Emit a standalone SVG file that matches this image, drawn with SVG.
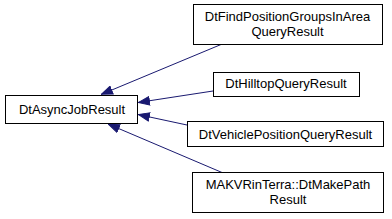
<svg xmlns="http://www.w3.org/2000/svg" width="392" height="219" viewBox="0 0 392 219">
<style>
.n rect{fill:#fff;stroke:#000;stroke-width:1}
.n text{font-family:"Liberation Sans",Arial,sans-serif;font-size:13px;text-anchor:middle;fill:#000}
.e line{stroke:#191970;stroke-width:1}
</style>
<defs>
<marker id="a" viewBox="0 0 12 10" refX="12" refY="5" markerWidth="12" markerHeight="10" markerUnits="userSpaceOnUse" orient="auto">
<path d="M0.5,0.8 L11.5,5 L0.5,9.2 z" fill="#191970" stroke="#191970"/>
</marker>
</defs>
<rect width="392" height="219" fill="#fff"/>
<g id="edges" class="e">
<line x1="221" y1="44.5" x2="101" y2="94.5" marker-end="url(#a)"/>
<line x1="213" y1="91" x2="138" y2="102.5" marker-end="url(#a)"/>
<line x1="187" y1="125" x2="138" y2="114.5" marker-end="url(#a)"/>
<line x1="222" y1="172.5" x2="108" y2="124" marker-end="url(#a)"/>
</g>
<g id="DtAsyncJobResult" class="n">
<rect x="5.5" y="95.5" width="132" height="28"/>
<text x="72" y="113.5">DtAsyncJobResult</text>
</g>
<g id="DtFindPositionGroupsInAreaQueryResult" class="n">
<rect x="193.5" y="4.5" width="189" height="40"/>
<text x="287.5" y="21">DtFindPositionGroupsInArea</text>
<text x="287.5" y="35.5">QueryResult</text>
</g>
<g id="DtHilltopQueryResult" class="n">
<rect x="213.5" y="72.5" width="146" height="24"/>
<text x="286" y="88">DtHilltopQueryResult</text>
</g>
<g id="DtVehiclePositionQueryResult" class="n">
<rect x="187.5" y="121.5" width="196" height="25"/>
<text x="285.5" y="138.5">DtVehiclePositionQueryResult</text>
</g>
<g id="DtMakePathResult" class="n">
<rect x="192.5" y="172.5" width="191" height="40"/>
<text x="288" y="189">MAKVRinTerra::DtMakePath</text>
<text x="288" y="203.5">Result</text>
</g>
</svg>
